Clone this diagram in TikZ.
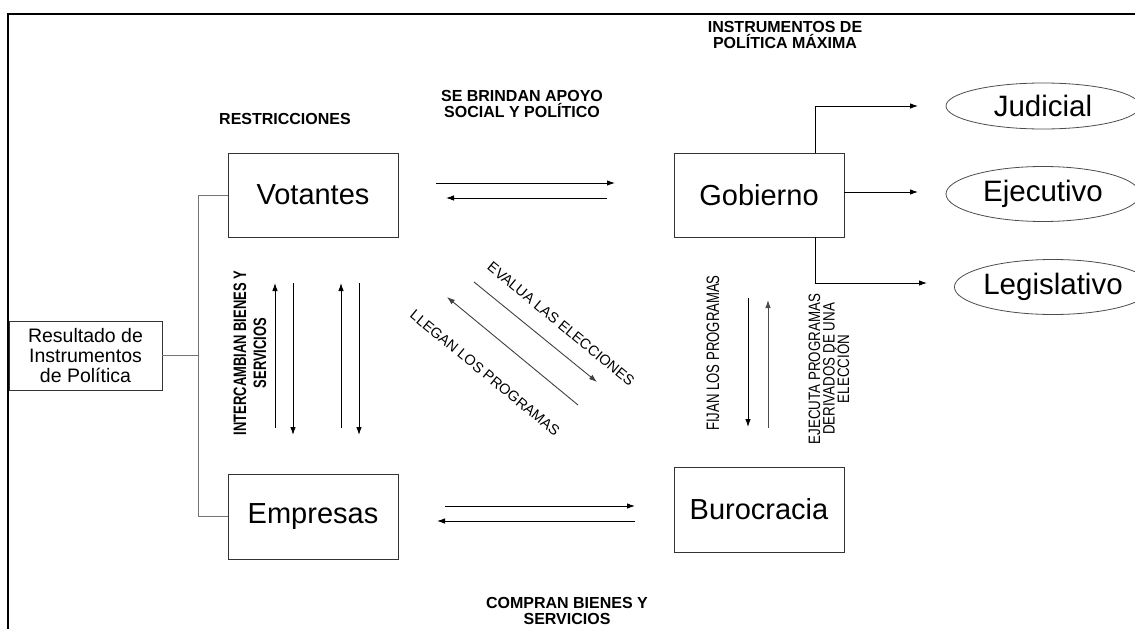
\documentclass[tikz,border=0pt]{standalone}
\usepackage{fontspec}
\setmainfont{Liberation Sans}
\usetikzlibrary{arrows.meta,shapes.geometric}
\newcommand{\cnd}[1]{\scalebox{0.82}[1]{#1}}
\newcommand{\cndn}[1]{\scalebox{0.72}[1]{#1}}
\begin{document}
\begin{tikzpicture}[x=1pt,y=-1pt,
  box/.style={draw=black!80,line width=0.9pt,minimum width=170pt,minimum height=84pt,inner sep=0pt,font=\fontsize{29}{33}\selectfont},
  oval/.style={ellipse,draw=black!70,line width=0.8pt,inner sep=0pt,font=\fontsize{29.5}{33}\selectfont},
  arr/.style={-{Latex[length=8pt,width=5.5pt]},line width=0.9pt},
  lab/.style={font=\bfseries\fontsize{16}{16}\selectfont,align=center,inner sep=0pt},
  vlab/.style={rotate=90,inner sep=0pt,align=center},
  dlab/.style={rotate=-39.5,inner sep=0pt,font=\fontsize{14.5}{14.5}\selectfont},
  conn/.style={draw=black!55,line width=0.9pt},
]
\useasboundingbox (0,0) rectangle (1135,629);
\clip (0,0) rectangle (1135,629);
\draw[line width=2.5pt] (8,700) -- (8,14) -- (1200,14);

% boxes
\node[box] (vot) at (313,195) {Votantes};
\node[box] (gob) at (759,195) {Gobierno};
\node[box,minimum height=85pt] (emp) at (313,516.5) {Empresas};
\node[box,minimum height=85pt] (bur) at (759,509.5) {Burocracia};
\node[draw=black!80,line width=0.9pt,minimum width=153pt,minimum height=69pt,inner sep=0pt,align=center,font=\fontsize{19.5}{20}\selectfont] (res) at (85.5,355.5) {Resultado de\\Instrumentos\\de Política};

% ellipses
\node[oval,minimum width=194pt,minimum height=46pt] (jud) at (1043,106) {Judicial};
\node[oval,minimum width=194pt,minimum height=55pt] (eje) at (1043,194) {Ejecutivo};
\node[oval,minimum width=190pt,minimum height=55pt] (leg) at (1053,287) {Legislativo};

% connectors from Resultado
\draw[conn] (vot.west) -- ++(-29,0) |- (res.east);
\draw[conn] (emp.west) -- ++(-29,0) |- (res.east);

% Gobierno branches
\coordinate (j1) at (918,106);
\coordinate (e1) at (918,192);
\coordinate (l1) at (927,283);
\draw[arr] ([xshift=56pt]gob.north) |- (j1);
\draw[arr] (gob.east |- e1) -- (e1);
\draw[arr] ([xshift=56pt]gob.south) |- (l1);

% Votantes - Gobierno
\coordinate (vg1) at (436,183); \coordinate (vg2) at (615,183);
\coordinate (gv1) at (607,198); \coordinate (gv2) at (446,198);
\draw[arr] (vg1) -- (vg2);
\draw[arr] (gv1) -- (gv2);

% Empresas - Burocracia
\coordinate (eb1) at (445,506); \coordinate (eb2) at (635,506);
\coordinate (be1) at (635,521); \coordinate (be2) at (437,521);
\draw[arr] (eb1) -- (eb2);
\draw[arr] (be1) -- (be2);

% Votantes - Empresas vertical arrows
\coordinate (u1a) at (275,428); \coordinate (u1b) at (275,283);
\coordinate (d1a) at (293,283); \coordinate (d1b) at (293,435);
\coordinate (u2a) at (341,428); \coordinate (u2b) at (341,283);
\coordinate (d2a) at (359,283); \coordinate (d2b) at (359,435);
\draw[arr] (u1a) -- (u1b);
\draw[arr] (d1a) -- (d1b);
\draw[arr] (u2a) -- (u2b);
\draw[arr] (d2a) -- (d2b);

% Gobierno - Burocracia vertical arrows
\coordinate (gb1) at (748,298); \coordinate (gb2) at (748,427);
\coordinate (bg1) at (768,428); \coordinate (bg2) at (768,300);
\draw[arr] (gb1) -- (gb2);
\draw[arr,draw=black!70] (bg1) -- (bg2);

% diagonal arrows
\coordinate (ev1) at (474,282); \coordinate (ev2) at (597,382);
\coordinate (ll1) at (578,405); \coordinate (ll2) at (447,297);
\draw[arr,draw=black!75] (ev1) -- (ev2);
\draw[arr,draw=black!75] (ll1) -- (ll2);

% labels
\node[lab] (restr) at (285,119) {RESTRICCIONES};
\node[lab] (apoyo) at (522,104) {SE BRINDAN APOYO\\SOCIAL Y POLÍTICO};
\node[lab] (instr) at (785,35) {INSTRUMENTOS DE\\POLÍTICA MÁXIMA};
\node[lab] (compr) at (567,611) {COMPRAN BIENES Y\\SERVICIOS};

\node[vlab,font=\bfseries\fontsize{18}{20}\selectfont] (inter) at (250,353) {\cndn{INTERCAMBIAN BIENES Y}\\\cndn{SERVICIOS}};
\node[vlab,font=\fontsize{18}{18}\selectfont] (fijan) at (713,353) {\scalebox{0.73}[1]{FIJAN LOS PROGRAMAS}};
\node[vlab,font=\fontsize{16.5}{14.5}\selectfont] (ejec) at (829,369) {\scalebox{0.81}[1]{EJECUTA PROGRAMAS}\\\scalebox{0.81}[1]{DERIVADOS DE UNA}\\\scalebox{0.81}[1]{ELECCIÓN}};

\node[dlab] (eval) at (561,324) {EVALUA LAS ELECCIONES};
\node[dlab] (lleg) at (485,373) {LLEGAN LOS PROGRAMAS};
\end{tikzpicture}
\end{document}
